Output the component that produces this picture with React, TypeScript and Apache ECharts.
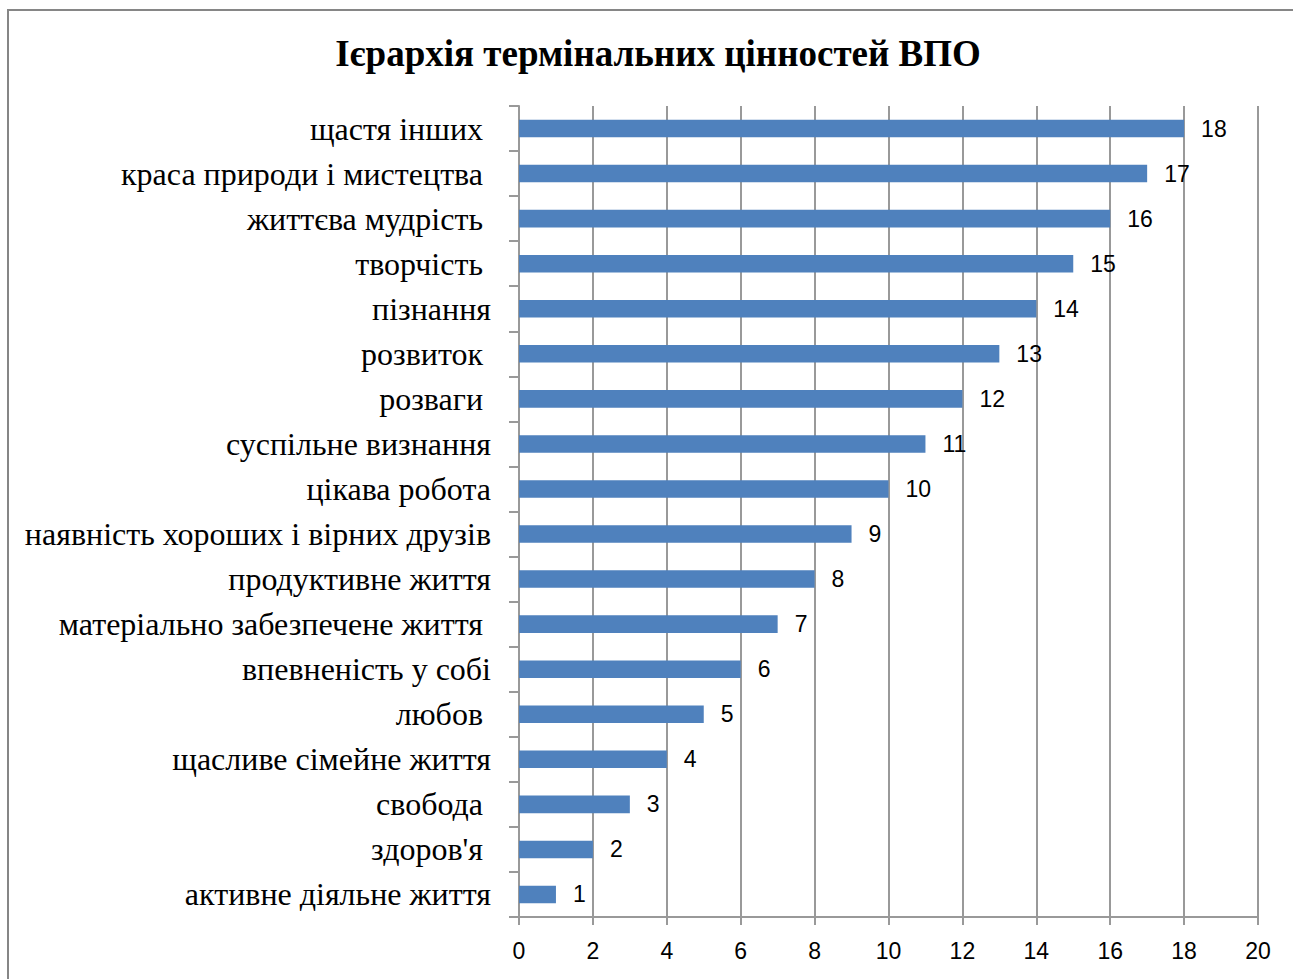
import React, { useEffect, useRef } from "react";
import * as echarts from "echarts";

const titleText = "Ієрархія термінальних цінностей ВПО";
const categories = [
  "активне діяльне життя",
  "здоров'я ",
  "свобода ",
  "щасливе сімейне життя",
  "любов ",
  "впевненість у собі",
  "матеріально забезпечене життя ",
  "продуктивне життя",
  "наявність хороших і вірних друзів",
  "цікава робота",
  "суспільне визнання",
  "розваги ",
  "розвиток ",
  "пізнання",
  "творчість ",
  "життєва мудрість ",
  "краса природи і мистецтва ",
  "щастя інших ",
];
const values = [1, 2, 3, 4, 5, 6, 7, 8, 9, 10, 11, 12, 13, 14, 15, 16, 17, 18];
const xMin = 0;
const xMax = 20;
const xStep = 2;

export default function App() {
  const ref = useRef<HTMLDivElement>(null);
  useEffect(() => {
    const chart = echarts.init(ref.current!, null, { renderer: "svg" });
    chart.setOption({
      animation: false,
      backgroundColor: "#ffffff",
      graphic: [
        {
          type: "rect",
          shape: { x: 8, y: 10, width: 1300, height: 1000 },
          style: { fill: "none", stroke: "#868686", lineWidth: 2 },
          silent: true,
        },
      ],
      title: {
        text: titleText,
        left: 653,
        textAlign: "center",
        top: 30,
        textStyle: {
          fontFamily: "Liberation Serif",
          fontWeight: "bold",
          fontSize: 37,
          color: "#000",
        },
      },
      grid: { left: 519, right: 35, top: 106, bottom: 62, containLabel: false },
      xAxis: {
        type: "value",
        min: xMin,
        max: xMax,
        interval: xStep,
        axisLine: { show: true, lineStyle: { color: "#999", width: 2 } },
        axisTick: { show: true, length: 8, lineStyle: { color: "#999", width: 2 } },
        splitLine: { show: true, lineStyle: { color: "#999", width: 2 } },
        axisLabel: {
          margin: 22,
          fontFamily: "Liberation Sans",
          fontSize: 23,
          color: "#000",
        },
      },
      yAxis: {
        type: "category",
        data: categories,
        axisLine: { show: true, lineStyle: { color: "#999", width: 2 } },
        axisTick: { show: true, length: 10, lineStyle: { color: "#999", width: 2 } },
        axisLabel: {
          margin: 28,
          fontFamily: "Liberation Serif",
          fontSize: 32,
          color: "#000",
        },
      },
      series: [
        {
          type: "bar",
          data: values,
          barWidth: "39%",
          itemStyle: { color: "#4F81BD" },
          label: {
            show: true,
            position: "right",
            distance: 17,
            fontFamily: "Liberation Sans",
            fontSize: 23,
            color: "#000",
          },
        },
      ],
    });
    return () => chart.dispose();
  }, []);
  return (
    <div
      ref={ref}
      style={{ position: "absolute", left: 0, top: 0, width: 1293, height: 979 }}
    />
  );
}
